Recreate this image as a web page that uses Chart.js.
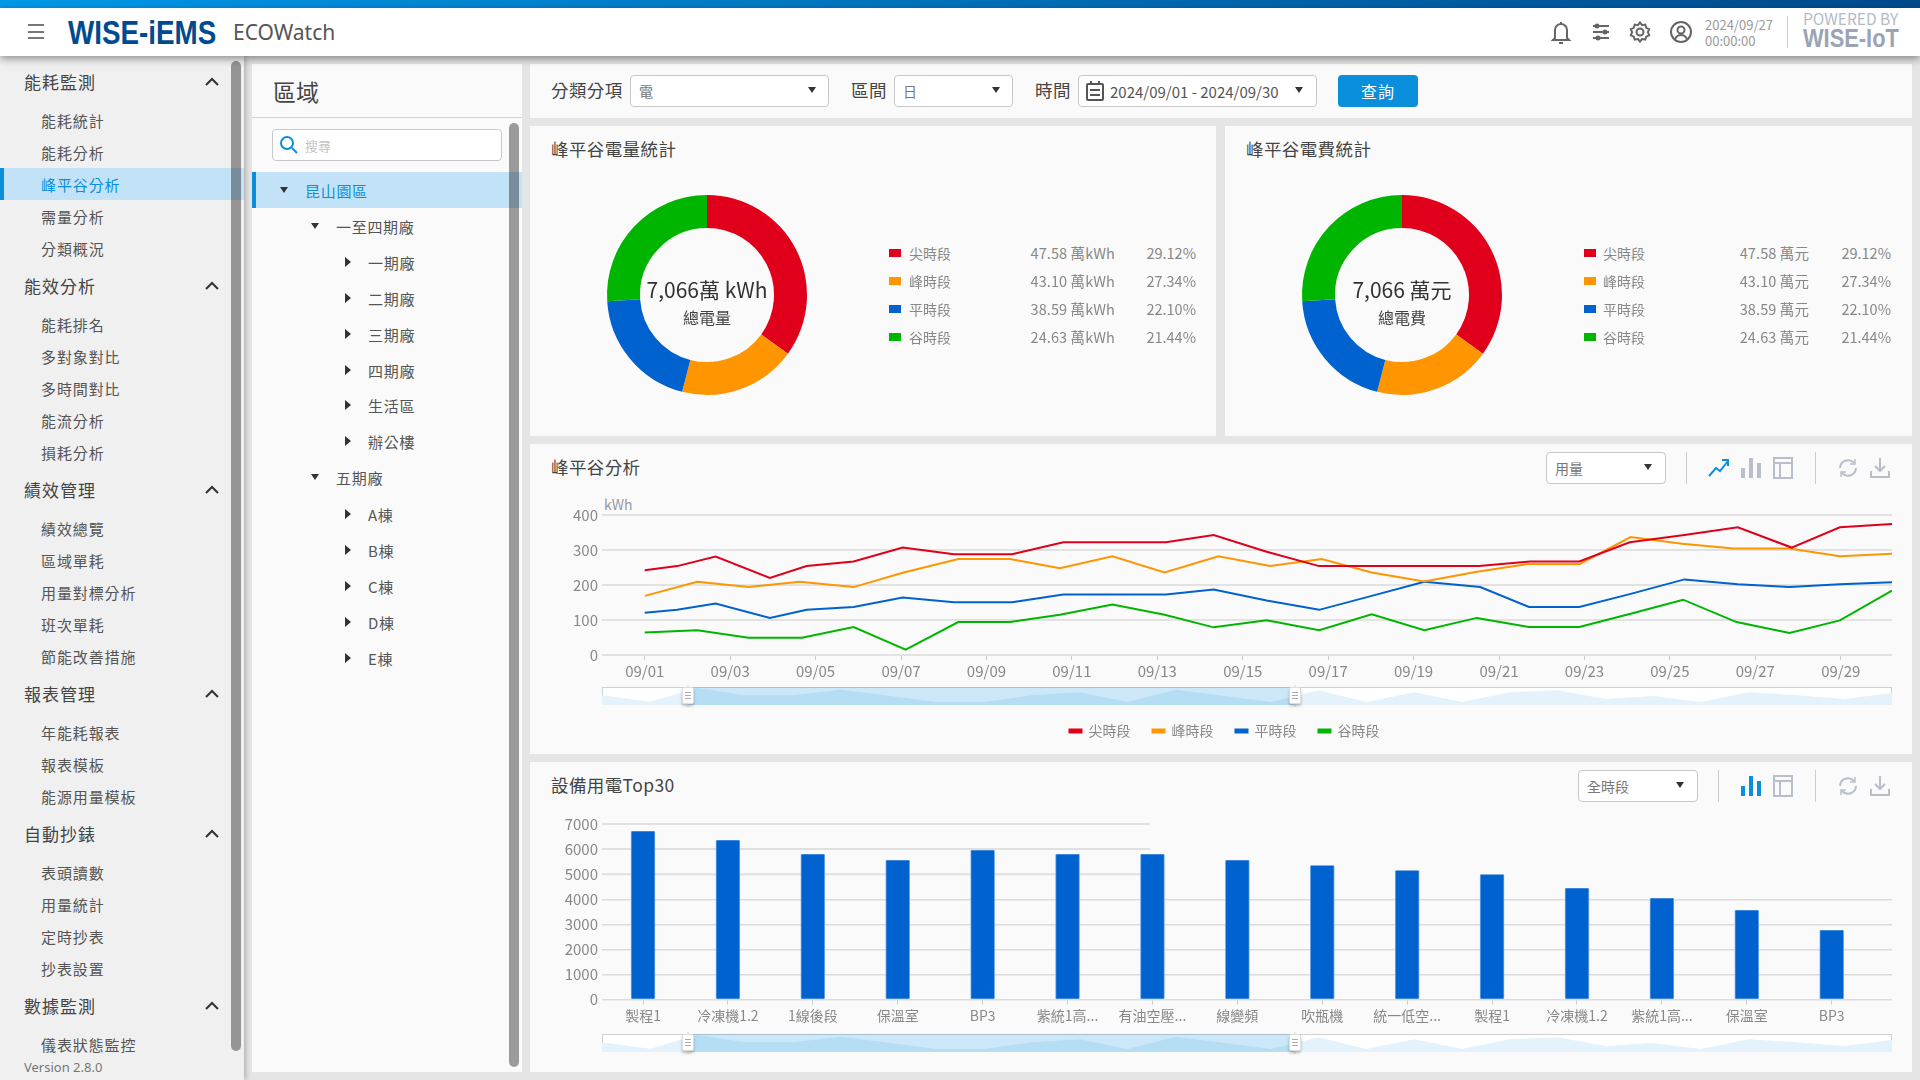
<!DOCTYPE html>
<html>
<head>
<meta charset="utf-8">
<title>ECOWatch</title>
<script src="https://cdn.jsdelivr.net/npm/chart.js@4/dist/chart.umd.min.js"></script>
<style>
html,body{margin:0;padding:0;width:1920px;height:1080px;overflow:hidden;background:#e5e5e5;font-family:"Noto Sans CJK TC","Noto Sans",sans-serif;color:#444}
.box{position:absolute;box-sizing:border-box}
.t{position:absolute;white-space:nowrap;transform:translateY(-50%);line-height:1;margin-top:-1.5px;transform-origin:left center}
.panel{position:absolute;background:#fafafa}
.sel{position:absolute;box-sizing:border-box;background:#fff;border:1px solid #c8c8c8;border-radius:4px}
.caret{position:absolute;width:0;height:0;border-left:4px solid transparent;border-right:4px solid transparent;border-top:6px solid #333;transform:translate(-50%,-50%)}
.arrowR{position:absolute;width:0;height:0;border-top:5px solid transparent;border-bottom:5px solid transparent;border-left:6px solid #333;transform:translate(-50%,-50%)}
.cv{position:absolute}
svg{position:absolute;overflow:visible}
</style>
</head>
<body>
<div id="root"></div>
<script>
// chart data
const periodNames = ['尖時段', '峰時段', '平時段', '谷時段'];
const periodColors = ['#e0001b', '#ff9500', '#0062cf', '#00b500'];
const donutShare = [35, 19, 20, 26];
const amounts = ['47.58', '43.10', '38.59', '24.63'];
const percents = ['29.12%', '27.34%', '22.10%', '21.44%'];

const tickDays = [1, 3, 5, 7, 9, 11, 13, 15, 17, 19, 21, 23, 25, 27, 29];
const tickDates = ['09/01', '09/03', '09/05', '09/07', '09/09', '09/11', '09/13', '09/15', '09/17', '09/19', '09/21', '09/23', '09/25', '09/27', '09/29'];

const redDays = [1.00, 1.76, 2.66, 3.93, 4.79, 5.89, 7.04, 8.24, 9.60, 10.80, 11.95, 13.20, 14.32, 15.56, 16.79, 18.02, 19.25, 20.53, 21.73, 22.88, 24.06, 25.34, 26.59, 27.85, 28.98, 30.2];
const redVals = [242, 254, 281, 220, 254, 267, 307, 288, 288, 322, 322, 322, 343, 295, 254, 254, 254, 254, 267, 267, 322, 343, 365, 307, 365, 374];
const orangeDays = [1.00, 2.23, 3.43, 4.63, 5.89, 7.04, 8.34, 9.55, 10.72, 11.95, 13.17, 14.43, 15.64, 16.85, 18.02, 19.25, 20.45, 21.68, 22.89, 24.08, 25.29, 26.49, 27.80, 28.98, 30.2];
const orangeVals = [169, 209, 194, 209, 194, 235, 274, 274, 248, 282, 236, 282, 254, 274, 236, 210, 237, 260, 260, 337, 318, 304, 304, 282, 289];
const blueDays = [1.00, 1.76, 2.66, 3.93, 4.79, 5.89, 7.04, 8.24, 9.60, 10.80, 11.95, 13.20, 14.32, 15.56, 16.79, 18.02, 19.25, 20.56, 21.70, 22.88, 24.06, 25.34, 26.59, 27.80, 28.98, 30.2];
const blueVals = [121, 129, 147, 106, 129, 137, 164, 151, 151, 173, 173, 173, 187, 156, 129, 169, 209, 194, 137, 137, 174, 216, 202, 194, 202, 208];
const greenDays = [1.00, 2.23, 3.43, 4.68, 5.89, 7.11, 8.34, 9.55, 10.72, 11.95, 13.17, 14.32, 15.56, 16.79, 18.02, 19.25, 20.48, 21.70, 22.88, 24.08, 25.31, 26.56, 27.80, 28.98, 30.2];
const greenVals = [64, 71, 49, 49, 80, 15, 94, 94, 115, 144, 115, 79, 99, 71, 116, 71, 106, 80, 80, 118, 158, 94, 63, 99, 184];

const deviceNames = ['製程1', '冷凍機1.2', '1線後段', '保溫室', 'BP3', '紫統1高...', '有油空壓...', '線變頻', '吹瓶機', '統一低空...', '製程1', '冷凍機1.2', '紫統1高...', '保溫室', 'BP3'];
const deviceVals = [6710, 6350, 5790, 5550, 5950, 5790, 5790, 5550, 5350, 5150, 4990, 4440, 4040, 3560, 2760];

const sliderVals = [29, 10, 51, 29, 29, 46, 28, 9, 9, 29, 38, 9, 46, 28, 9, 44, 9, 38, 9, 38, 44, 18, 27, 9, 38, 29, 18, 36];

const menuGroups = [
  ['能耗監測', 82, [['能耗統計', 121], ['能耗分析', 153], ['峰平谷分析', 185], ['需量分析', 217], ['分類概況', 249]]],
  ['能效分析', 286, [['能耗排名', 325], ['多對象對比', 357], ['多時間對比', 389], ['能流分析', 421], ['損耗分析', 453]]],
  ['績效管理', 490, [['績效總覽', 529], ['區域單耗', 561], ['用量對標分析', 593], ['班次單耗', 625], ['節能改善措施', 657]]],
  ['報表管理', 694, [['年能耗報表', 733], ['報表模板', 765], ['能源用量模板', 797]]],
  ['自動抄錶', 834, [['表頭讀數', 873], ['用量統計', 905], ['定時抄表', 937], ['抄表設置', 969]]],
  ['數據監測', 1006, [['儀表狀態監控', 1045]]]
];
const treeRows = [
  ['昆山園區', 191, 0, 'open'], ['一至四期廠', 227, 1, 'open'], ['一期廠', 263, 2, 'r'], ['二期廠', 299, 2, 'r'],
  ['三期廠', 335, 2, 'r'], ['四期廠', 371, 2, 'r'], ['生活區', 406, 2, 'r'], ['辦公樓', 442, 2, 'r'],
  ['五期廠', 478, 1, 'open'], ['A棟', 515, 2, 'r'], ['B棟', 551, 2, 'r'], ['C棟', 587, 2, 'r'], ['D棟', 623, 2, 'r'], ['E棟', 659, 2, 'r']
];

const root = document.getElementById('root');
const fontFam = '"Noto Sans CJK TC","Noto Sans",sans-serif';
Chart.defaults.font.family = fontFam;
Chart.defaults.animation = false;

function box(x, y, w, h, css) {
  const d = document.createElement('div');
  d.className = 'box';
  d.style.cssText = `left:${x}px;top:${y}px;width:${w}px;height:${h}px;${css || ''}`;
  root.appendChild(d);
  return d;
}
function text(x, y, s, css, right) {
  const d = document.createElement('div');
  d.className = 't';
  d.textContent = s;
  d.style.cssText = `top:${y}px;${right ? 'right:' + (1920 - x) + 'px' : 'left:' + x + 'px'};${css || ''}`;
  root.appendChild(d);
  return d;
}
function icon(cx, cy, inner, stroke) {
  const s = document.createElementNS('http://www.w3.org/2000/svg', 'svg');
  s.setAttribute('width', 24); s.setAttribute('height', 24);
  s.setAttribute('viewBox', '0 0 24 24');
  s.style.cssText = `left:${cx - 12}px;top:${cy - 12}px;fill:none;stroke:${stroke};stroke-width:2`;
  s.innerHTML = inner;
  root.appendChild(s);
}
function caret(x, y) {
  const d = document.createElement('div');
  d.className = 'caret';
  d.style.cssText = `left:${x}px;top:${y}px`;
  root.appendChild(d);
}
function select(x, y, w, s, cx) {
  const d = document.createElement('div');
  d.className = 'sel';
  d.style.cssText = `left:${x}px;top:${y}px;width:${w}px;height:32px`;
  root.appendChild(d);
  if (s) text(x + 9, y + 17, s, 'font-size:14px;color:#777');
  caret(cx, y + 15);
}

// top bar
box(0, 0, 1920, 8, 'background:linear-gradient(90deg,#0098e8,#004a8c)');
box(0, 8, 1920, 48, 'background:#fff;box-shadow:0 3px 8px rgba(0,0,0,.4);z-index:5');
const hdr = 'z-index:6;';
[25, 32, 38].forEach(y => box(28, y - 1, 16, 2, 'background:#777;z-index:6'));
text(68, 33, 'WISE-iEMS', hdr + 'font-family:"Liberation Sans";font-weight:700;font-size:34px;color:#004a8f;transform:translateY(-50%) scaleX(.817)');
text(233, 33, 'ECOWatch', hdr + 'font-family:"Noto Sans";font-size:21px;color:#555');
text(1705, 25, '2024/09/27', hdr + 'font-size:13px;color:#999');
text(1705, 41, '00:00:00', hdr + 'font-size:13px;color:#999');
box(1787, 16, 1, 32, 'background:#ccc;z-index:6');
text(1803, 20, 'POWERED BY', hdr + 'font-size:15.5px;color:#b5bac6');
text(1803, 39, 'WISE-IoT', hdr + 'font-family:"Liberation Sans";font-weight:700;font-size:26px;color:#9ba3b5;transform:translateY(-50%) scaleX(.84)');

// left menu
box(0, 56, 244, 1024, 'background:#f0f0f0;box-shadow:1px 0 6px rgba(0,0,0,.3)');
box(0, 168, 231, 32, 'background:#c2e2f7');
box(0, 168, 4, 32, 'background:#0a8fdc');
box(231, 168, 13, 32, 'background:#c2e2f7');
box(231, 61, 10, 990, 'background:rgba(0,0,0,.38);border-radius:5px');
menuGroups.forEach(g => {
  text(24, g[1], g[0], 'font-size:17px;letter-spacing:1px;color:#444');
  icon(212, g[1], '<polyline points="6,15 12,9 18,15" />', '#333');
  g[2].forEach(it => {
    const on = it[0] === '峰平谷分析';
    text(41, it[1], it[0], `font-size:15px;letter-spacing:.9px;color:${on ? '#0a8fdc' : '#555'}`);
  });
});
text(24, 1068, 'Version 2.8.0', 'font-family:"Noto Sans";font-size:13px;color:#777');

// area tree
box(252, 64, 270, 1008, 'background:#fafafa');
box(252, 117, 270, 1, 'background:#d5d5d5');
text(273, 92, '區域', 'font-size:23px;color:#444');
box(272, 129, 230, 32, 'background:#fff;border:1px solid #c8c8c8;border-radius:4px');
icon(289, 145, '<circle cx="10" cy="10" r="6" /><line x1="15" y1="15" x2="20" y2="20" />', '#0a8fdc');
text(305, 146, '搜尋', 'font-size:13px;color:#c4c4c4');
box(252, 172, 270, 36, 'background:#c2e2f7');
box(252, 172, 4, 36, 'background:#0a8fdc');
treeRows.forEach(r => {
  const textX = [305, 336, 368][r[2]];
  const arrowX = [284, 315, 348][r[2]];
  text(textX, r[1], r[0], `font-size:15px;letter-spacing:.7px;color:${r[2] === 0 ? '#0a8fdc' : '#555'}`);
  const d = document.createElement('div');
  d.className = r[3] === 'open' ? 'caret' : 'arrowR';
  d.style.cssText = `left:${arrowX}px;top:${r[1] - 1}px`;
  root.appendChild(d);
});
box(509, 123, 10, 944, 'background:rgba(0,0,0,.38);border-radius:5px');

// filter bar
box(530, 64, 1382, 54, 'background:#fafafa');
const labelCss = 'font-size:17.5px;letter-spacing:.4px;color:#444';
text(551, 91, '分類分項', labelCss);
select(630, 75, 199, '電', 812);
text(851, 91, '區間', labelCss);
select(894, 75, 119, '日', 996);
text(1035, 91, '時間', labelCss);
select(1078, 75, 239, '', 1299);
icon(1095, 91, '<rect x="4" y="5" width="16" height="16" rx="1" /><line x1="8" y1="2" x2="8" y2="6" /><line x1="16" y1="2" x2="16" y2="6" /><line x1="7" y1="11" x2="17" y2="11" /><line x1="7" y1="16" x2="17" y2="16" />', '#555');
text(1110, 92, '2024/09/01 - 2024/09/30', 'font-size:15px;color:#555');
box(1338, 75, 80, 32, 'background:#0a8fdc;border-radius:4px');
text(1378, 92, '查詢', 'font-size:16px;color:#fff;transform:translate(-50%,-50%);letter-spacing:1px');

// donut panels
function donutPanel(x, w, title, cx, big, small, unit, swX, labX, valR, pctR) {
  box(x, 126, w, 310, 'background:#fafafa');
  text(x + 21, 150, title, labelCss);
  const c = document.createElement('canvas');
  c.className = 'cv';
  c.width = 220; c.height = 220;
  c.style.cssText = `left:${cx - 110}px;top:185px;width:220px;height:220px`;
  root.appendChild(c);
  new Chart(c, {
    type: 'doughnut',
    data: { labels: periodNames, datasets: [{ data: donutShare, backgroundColor: periodColors, borderWidth: 0 }] },
    options: { responsive: false, cutout: '67%', layout: { padding: 10 }, plugins: { legend: { display: false }, tooltip: { enabled: false } } }
  });
  text(cx, 290, big, 'font-size:21px;color:#333;transform:translate(-50%,-50%)');
  text(cx, 318, small, 'font-size:16px;color:#444;transform:translate(-50%,-50%)');
  periodNames.forEach((n, i) => {
    const y = 254 + i * 28;
    box(swX, y - 5, 12, 8, 'background:' + periodColors[i]);
    text(labX - 1, y, n, 'font-size:14px;color:#888');
    text(valR, y, amounts[i] + unit, 'font-size:14.5px;color:#888;letter-spacing:.1px', true);
    text(pctR, y, percents[i], 'font-size:14.5px;color:#888', true);
  });
}
donutPanel(530, 686, '峰平谷電量統計', 707, '7,066萬 kWh', '總電量', ' 萬kWh', 889, 910, 1115, 1196);
donutPanel(1225, 687, '峰平谷電費統計', 1402, '7,066 萬元', '總電費', ' 萬元', 1584, 1604, 1809, 1891);

// panel tools
function panelTools(cy, bars, firstDiv) {
  box(firstDiv, cy - 16, 1, 32, 'background:#ccc');
  box(1815, cy - 16, 1, 32, 'background:#ccc');
  if (!bars) icon(1719, cy, '<polyline points="2,20 9,12 13,15 21,5" /><polyline points="15,4 21,4 21,10" />', '#0a8fdc');
  const bc = bars ? '#0a8fdc' : '#b8bfcb';
  icon(1751, cy, `<line x1="4" y1="12" x2="4" y2="22" stroke-width="4"/><line x1="12" y1="2" x2="12" y2="22" stroke-width="4"/><line x1="20" y1="7" x2="20" y2="22" stroke-width="4"/>`, bc);
  icon(1783, cy, '<rect x="3" y="2" width="18" height="20" /><line x1="3" y1="7" x2="21" y2="7" /><line x1="9" y1="7" x2="9" y2="22" />', '#b8bfcb');
  icon(1848, cy, '<path d="M4 12a8 8 0 0 1 14-5" /><path d="M20 12a8 8 0 0 1-14 5" /><polyline points="19,3 19,8 14,8" stroke-width="1.5"/><polyline points="5,21 5,16 10,16" stroke-width="1.5"/>', '#b8bfcb');
  icon(1880, cy, '<line x1="12" y1="2" x2="12" y2="15" /><polyline points="7,10 12,15 17,10" /><polyline points="3,15 3,21 21,21 21,15" />', '#b8bfcb');
}

// range slider under the charts, the mini area comes from its own little chart
function rangeSlider(top) {
  box(602, top, 1290, 18, 'background:#fff;border:1px solid #d0d0d0');
  const c = document.createElement('canvas');
  const wrap = document.createElement('div');
  wrap.style.cssText = `position:absolute;left:602px;top:${top}px;width:1290px;height:18px`;
  wrap.appendChild(c);
  root.appendChild(wrap);
  new Chart(c, {
    type: 'line',
    data: { labels: sliderVals.map((v, i) => i), datasets: [{ data: sliderVals, fill: true, backgroundColor: '#e3f2fb', borderWidth: 0, pointRadius: 0, tension: 0 }] },
    options: {
      responsive: true, maintainAspectRatio: false,
      scales: { x: { display: false }, y: { display: false, min: 0, max: 54 } },
      plugins: { legend: { display: false }, tooltip: { enabled: false } }
    }
  });
  box(688, top, 607, 18, 'background:rgba(0,140,220,.2)');
  [688, 1295].forEach(x => {
    box(x - 1, top - 2, 2, 22, 'background:#e8e8e8');
    box(x - 6, top, 12, 17, 'background:#fff;border:1px solid #ddd;border-radius:2px;box-shadow:0 2px 3px rgba(0,0,0,.25)');
    [5, 8, 11].forEach(dy => box(x - 3, top + dy, 6, 1, 'background:#aaa'));
  });
}

// usage line chart
box(530, 444, 1382, 310, 'background:#fafafa');
text(551, 468, '峰平谷分析', labelCss);
select(1546, 452, 120, '用量', 1648);
panelTools(468, false, 1686);
text(604, 505, 'kWh', 'font-size:14px;color:#999');

const lineWrap = document.createElement('div');
lineWrap.style.cssText = 'position:absolute;left:530px;top:490px;width:1382px;height:258px';
lineWrap.innerHTML = '<canvas id="lineChart"></canvas>';
root.appendChild(lineWrap);

function points(days, vals) { return days.map((d, i) => ({ x: d, y: vals[i] })); }
const lineSets = [[redDays, redVals], [orangeDays, orangeVals], [blueDays, blueVals], [greenDays, greenVals]];

new Chart('lineChart', {
  type: 'line',
  data: {
    datasets: lineSets.map((s, i) => ({
      label: periodNames[i], data: points(s[0], s[1]), borderColor: periodColors[i], backgroundColor: periodColors[i],
      borderWidth: 2, pointRadius: 0, tension: 0
    }))
  },
  options: {
    responsive: true, maintainAspectRatio: false,
    layout: { padding: { top: 25, right: 20, left: 27, bottom: 0 } },
    scales: {
      x: {
        type: 'linear', min: 0, max: 30.2,
        afterBuildTicks: ax => { ax.ticks = tickDays.map(v => ({ value: v })); },
        afterFit: ax => { ax.height = 47; },
        border: { display: false },
        grid: { drawOnChartArea: false, drawTicks: true, tickLength: 5, color: '#cccccc' },
        ticks: { autoSkip: false, maxRotation: 0, padding: 2, color: '#888', font: { size: 15 },
          callback: v => tickDates[tickDays.indexOf(v)] }
      },
      y: {
        min: 0, max: 400,
        afterFit: ax => { ax.width = 45; },
        border: { display: false },
        grid: { color: '#e2e2e2', lineWidth: 2, drawTicks: false },
        ticks: { stepSize: 100, padding: 4, color: '#888', font: { size: 15 } }
      }
    },
    plugins: {
      tooltip: { enabled: false },
      legend: { position: 'bottom', labels: { boxWidth: 12, boxHeight: 3, padding: 22, color: '#888', font: { size: 14 } } }
    }
  }
});
rangeSlider(687);

// device bar chart
box(530, 762, 1382, 310, 'background:#fafafa');
text(551, 786, '設備用電Top30', labelCss);
select(1578, 770, 120, '全時段', 1680);
panelTools(786, true, 1718);

const topTicks = [5000, 6000, 7000];
const shortGridEnd = 5.97;
// the top grid lines stop part way across in the original
const shortGrid = {
  id: 'shortGrid',
  beforeDatasetsDraw(chart) {
    const { ctx, scales } = chart;
    ctx.save();
    ctx.strokeStyle = '#e0e0e0';
    ctx.lineWidth = 2;
    topTicks.forEach(v => {
      const y = scales.y.getPixelForValue(v);
      ctx.beginPath();
      ctx.moveTo(scales.x.left, y);
      ctx.lineTo(scales.x.getPixelForValue(shortGridEnd), y);
      ctx.stroke();
    });
    ctx.restore();
  }
};
const barWrap = document.createElement('div');
barWrap.style.cssText = 'position:absolute;left:530px;top:800px;width:1382px;height:260px';
barWrap.innerHTML = '<canvas id="barChart"></canvas>';
root.appendChild(barWrap);
new Chart('barChart', {
  type: 'bar',
  data: {
    datasets: [{ data: deviceVals.map((v, i) => ({ x: i, y: v })), backgroundColor: '#0062cf', barThickness: 24,
      borderColor: '#6ea8ea', borderWidth: { left: 1, right: 1, top: 0, bottom: 0 } }]
  },
  plugins: [shortGrid],
  options: {
    responsive: true, maintainAspectRatio: false,
    layout: { padding: { top: 24, right: 20, left: 0, bottom: 0 } },
    scales: {
      x: {
        type: 'linear', offset: false, min: -0.483, max: 14.71,
        afterBuildTicks: ax => { ax.ticks = deviceVals.map((v, i) => ({ value: i })); },
        afterFit: ax => { ax.height = 60.4; },
        border: { display: false },
        grid: { offset: false, drawOnChartArea: false, drawTicks: true, tickLength: 5, color: '#cccccc' },
        ticks: { autoSkip: false, maxRotation: 0, padding: 3, color: '#888', font: { size: 14 },
          callback: v => deviceNames[v] }
      },
      y: {
        min: 0, max: 7000,
        afterFit: ax => { ax.width = 72; },
        border: { display: false },
        grid: { color: ctx => ctx.tick.value >= 5000 ? 'transparent' : '#dcdcdc', lineWidth: 1.5, drawTicks: false },
        ticks: { stepSize: 1000, padding: 4, color: '#888', font: { size: 15 }, callback: v => String(v) }
      }
    },
    plugins: { legend: { display: false }, tooltip: { enabled: false } }
  }
});
rangeSlider(1034);

// header icons
const hi = '#666';
icon(1561, 32, '<path d="M6 18V10a6 6 0 0 1 12 0v8l2 2H4z" /><path d="M10 23h4" /><path d="M12 2v2" />', hi);
icon(1601, 32, '<line x1="4" y1="6" x2="20" y2="6" /><line x1="4" y1="12" x2="20" y2="12" /><line x1="4" y1="18" x2="20" y2="18" /><circle cx="8" cy="6" r="1.5" /><circle cx="16" cy="12" r="1.5" /><circle cx="9" cy="18" r="1.5" />', hi);
icon(1640, 32, '<circle cx="12" cy="12" r="3.5" /><path d="M12 2.5l2 2.7 3.3-.6.9 3.2 3 1.4-1.3 3 1.3 3-3 1.4-.9 3-3.3-.5-2 2.6-2-2.6-3.3.5-.9-3-3-1.4 1.3-3-1.3-3 3-1.4.9-3.2 3.3.6z" />', hi);
icon(1681, 32, '<circle cx="12" cy="12" r="10" /><circle cx="12" cy="10" r="3.5" /><path d="M6 19c1.5-3 3.5-4 6-4s4.5 1 6 4" />', hi);
root.querySelectorAll('svg').forEach(s => { if (parseFloat(s.style.top) < 50) s.style.zIndex = 7; });
</script>
</body>
</html>
